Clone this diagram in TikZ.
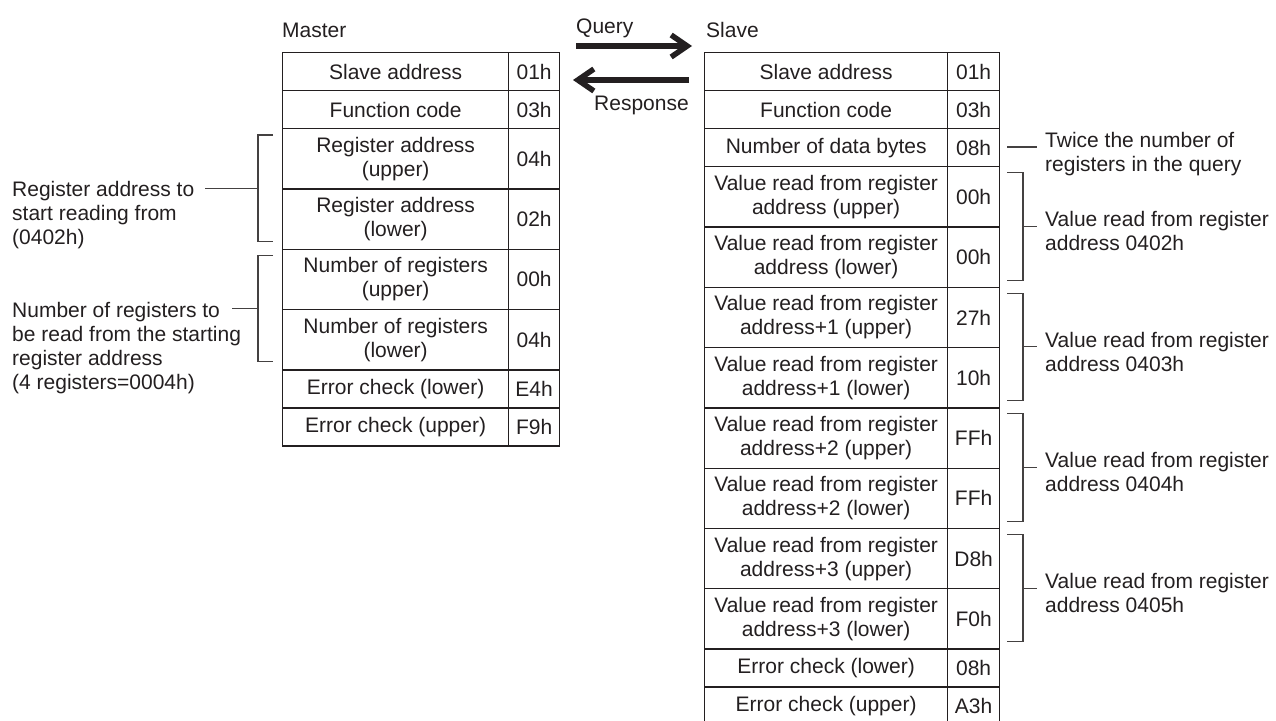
\documentclass[tikz,border=0pt]{standalone}
\usepackage{fontspec}
\setmainfont{Liberation Sans}
\usetikzlibrary{arrows.meta}
\definecolor{ink}{HTML}{231F20}
\begin{document}
\begin{tikzpicture}[x=1pt,y=-1pt,
  txt/.style={font=\fontsize{21}{24}\selectfont, text=ink, inner sep=0pt},
  cell/.style={txt, draw=ink, line width=1.3pt, anchor=north west, align=center},
  rh/.style={minimum height=#1},
  mlab/.style={cell, minimum width=226pt},
  mval/.style={cell, minimum width=51pt},
  slab/.style={cell, minimum width=243pt},
  sval/.style={cell, minimum width=52pt},
  ann/.style={txt, anchor=north west, align=left},
  brk/.style={draw=ink!85, line width=1.1pt},
  bigarrow/.style={draw=ink, line width=5.5pt, -{Straight Barb[length=16pt,width=22pt]}}
]
\useasboundingbox (0,0) rectangle (1276,720);

% titles
\node[txt, anchor=base west] (mtitle) at (282,37) {Master};
\node[txt, anchor=base west] (stitle) at (706,37) {Slave};
\node[txt, anchor=base west] (qlab) at (576,33) {Query};
\node[txt, anchor=base west] (rlab) at (594,110) {Response};

% arrows
\coordinate (qa) at (576,46);
\coordinate (qb) at (692,46);
\coordinate (ra) at (689,80);
\coordinate (rb) at (573,80);
\draw[bigarrow] (qa) -- (qb);
\draw[bigarrow] (ra) -- (rb);

% master table
\node[mlab, rh=38pt]   (m1) at (282,52)    {Slave address};
\node[mval, rh=38pt]   (m1v) at (508,52)   {01h};
\node[mlab, rh=38pt]   (m2) at (282,90)    {Function code};
\node[mval, rh=38pt]   (m2v) at (508,90)   {03h};
\node[mlab, rh=60.3pt] (m3) at (282,128)   {Register address\\(upper)};
\node[mval, rh=60.3pt] (m3v) at (508,128)  {04h};
\node[mlab, rh=60.3pt] (m4) at (282,188.3) {Register address\\(lower)};
\node[mval, rh=60.3pt] (m4v) at (508,188.3) {02h};
\node[mlab, rh=60.3pt] (m5) at (282,248.6) {Number of registers\\(upper)};
\node[mval, rh=60.3pt] (m5v) at (508,248.6) {00h};
\node[mlab, rh=60.3pt] (m6) at (282,308.9) {Number of registers\\(lower)};
\node[mval, rh=60.3pt] (m6v) at (508,308.9) {04h};
\node[mlab, rh=38pt]   (m7) at (282,369.2) {Error check (lower)};
\node[mval, rh=38pt]   (m7v) at (508,369.2) {E4h};
\node[mlab, rh=38pt]   (m8) at (282,407.2) {Error check (upper)};
\node[mval, rh=38pt]   (m8v) at (508,407.2) {F9h};

% slave table
\node[slab, rh=38pt]   (s1) at (704,52)    {Slave address};
\node[sval, rh=38pt]   (s1v) at (947,52)   {01h};
\node[slab, rh=38pt]   (s2) at (704,90)    {Function code};
\node[sval, rh=38pt]   (s2v) at (947,90)   {03h};
\node[slab, rh=38pt]   (s3) at (704,128)   {Number of data bytes};
\node[sval, rh=38pt]   (s3v) at (947,128)  {08h};
\node[slab, rh=60.3pt] (s4) at (704,166)   {Value read from register\\address (upper)};
\node[sval, rh=60.3pt] (s4v) at (947,166)  {00h};
\node[slab, rh=60.3pt] (s5) at (704,226.3) {Value read from register\\address (lower)};
\node[sval, rh=60.3pt] (s5v) at (947,226.3) {00h};
\node[slab, rh=60.3pt] (s6) at (704,286.6) {Value read from register\\address+1 (upper)};
\node[sval, rh=60.3pt] (s6v) at (947,286.6) {27h};
\node[slab, rh=60.3pt] (s7) at (704,346.9) {Value read from register\\address+1 (lower)};
\node[sval, rh=60.3pt] (s7v) at (947,346.9) {10h};
\node[slab, rh=60.3pt] (s8) at (704,407.2) {Value read from register\\address+2 (upper)};
\node[sval, rh=60.3pt] (s8v) at (947,407.2) {FFh};
\node[slab, rh=60.3pt] (s9) at (704,467.5) {Value read from register\\address+2 (lower)};
\node[sval, rh=60.3pt] (s9v) at (947,467.5) {FFh};
\node[slab, rh=60.3pt] (s10) at (704,527.8) {Value read from register\\address+3 (upper)};
\node[sval, rh=60.3pt] (s10v) at (947,527.8) {D8h};
\node[slab, rh=60.3pt] (s11) at (704,588.1) {Value read from register\\address+3 (lower)};
\node[sval, rh=60.3pt] (s11v) at (947,588.1) {F0h};
\node[slab, rh=38pt]   (s12) at (704,648.4) {Error check (lower)};
\node[sval, rh=38pt]   (s12v) at (947,648.4) {08h};
\node[slab, rh=38pt]   (s13) at (704,686.4) {Error check (upper)};
\node[sval, rh=38pt]   (s13v) at (947,686.4) {A3h};

% left annotations
\node[ann] (la1) at (12,179.2) {\strut Register address to\\start reading from\\(0402h)};
\node[ann] (la2) at (12,300.2) {\strut Number of registers to\\be read from the starting\\register address\\(4 registers=0004h)};

\draw[brk] (273,135) -- (258,135) -- (258,241.3) -- (273,241.3);
\draw[brk] (273,255.6) -- (258,255.6) -- (258,361.9) -- (273,361.9);
\coordinate (lb1) at (258,188.3);
\coordinate (le1) at (205,188.3);
\coordinate (lb2) at (258,308.9);
\coordinate (le2) at (232,308.9);
\draw[brk] (lb1) -- (le1);
\draw[brk] (lb2) -- (le2);

% right annotations
\node[ann] (ra0) at (1045,130.2) {\strut Twice the number of\\registers in the query};
\node[ann] (ra1) at (1045,209.5) {\strut Value read from register\\address 0402h};
\node[ann] (ra2) at (1045,330.1) {\strut Value read from register\\address 0403h};
\node[ann] (ra3) at (1045,450.7) {\strut Value read from register\\address 0404h};
\node[ann] (ra4) at (1045,571.3) {\strut Value read from register\\address 0405h};

\coordinate (rt0a) at (1007,147);
\coordinate (rt0b) at (1037,147);
\draw[brk] (rt0a) -- (rt0b);

\draw[brk] (1007,172.5) -- (1023,172.5) -- (1023,280.1) -- (1007,280.1);
\draw[brk] (1007,293.1) -- (1023,293.1) -- (1023,400.7) -- (1007,400.7);
\draw[brk] (1007,413.7) -- (1023,413.7) -- (1023,521.3) -- (1007,521.3);
\draw[brk] (1007,534.3) -- (1023,534.3) -- (1023,641.9) -- (1007,641.9);

\coordinate (rb1) at (1023,226.3);  \coordinate (re1) at (1037,226.3);
\coordinate (rb2) at (1023,346.9);  \coordinate (re2) at (1037,346.9);
\coordinate (rb3) at (1023,467.5);  \coordinate (re3) at (1037,467.5);
\coordinate (rb4) at (1023,588.1);  \coordinate (re4) at (1037,588.1);
\draw[brk] (rb1) -- (re1);
\draw[brk] (rb2) -- (re2);
\draw[brk] (rb3) -- (re3);
\draw[brk] (rb4) -- (re4);
\end{tikzpicture}
\end{document}
